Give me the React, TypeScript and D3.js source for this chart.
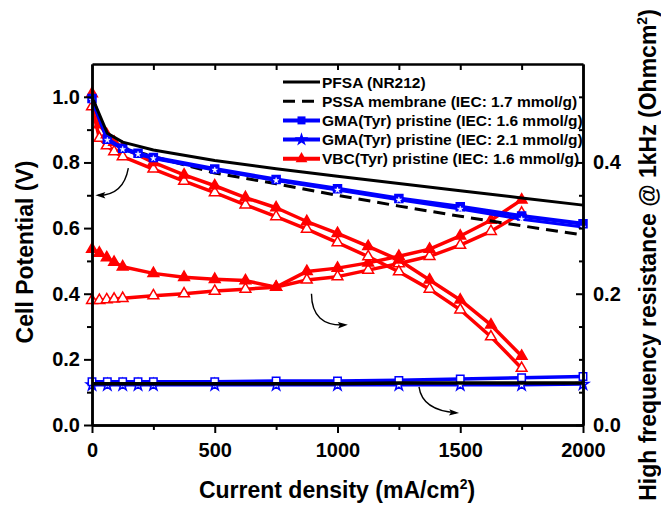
import React, { useEffect, useRef } from 'react';
import * as d3 from 'd3';

// current density (mA/cm2)
const xVbc = [0, 30, 60, 90, 125, 250, 375, 500, 625, 750, 875, 1000, 1125, 1250, 1375, 1500, 1625, 1750];
const xGma = [0, 62.5, 125, 187.5, 250, 500, 750, 1000, 1250, 1500, 1750, 2000];
const xNafion = [0, 62.5, 125, 250, 500, 750, 1000, 1250, 1500, 1750, 2000];

// cell potential (V)
const pfsaV = [1.0, 0.889, 0.862, 0.838, 0.806, 0.781, 0.758, 0.736, 0.714, 0.692, 0.670];
const pssaV = [1.0, 0.872, 0.845, 0.818, 0.768, 0.735, 0.700, 0.667, 0.636, 0.607, 0.579];
const gma16V = [0.995, 0.871, 0.843, 0.828, 0.815, 0.780, 0.748, 0.720, 0.690, 0.665, 0.637, 0.613];
const gma21V = [0.99, 0.868, 0.840, 0.825, 0.812, 0.777, 0.745, 0.716, 0.686, 0.658, 0.627, 0.603];
const vbcV = [1.01, 0.915, 0.885, 0.862, 0.845, 0.800, 0.762, 0.729, 0.693, 0.662, 0.620, 0.584, 0.544, 0.503, 0.442, 0.381, 0.305, 0.210];
const vbcV2 = [0.97, 0.874, 0.851, 0.833, 0.818, 0.780, 0.743, 0.708, 0.671, 0.635, 0.597, 0.556, 0.513, 0.467, 0.414, 0.351, 0.269, 0.173];

// high frequency resistance (Ohm cm2)
const pfsaHfr = [0.063, 0.063, 0.063, 0.063, 0.063, 0.063, 0.063, 0.064, 0.064, 0.064, 0.064];
const gma16Hfr = [0.066, 0.066, 0.066, 0.066, 0.066, 0.066, 0.067, 0.067, 0.068, 0.070, 0.072, 0.074];
const gma21Hfr = [0.061, 0.061, 0.061, 0.061, 0.061, 0.061, 0.061, 0.061, 0.061, 0.061, 0.061, 0.062];
const vbcHfr = [0.268, 0.262, 0.255, 0.248, 0.241, 0.231, 0.225, 0.222, 0.220, 0.210, 0.234, 0.239, 0.247, 0.257, 0.268, 0.288, 0.312, 0.343];
const vbcHfr2 = [0.190, 0.190, 0.191, 0.192, 0.193, 0.197, 0.200, 0.204, 0.207, 0.210, 0.221, 0.226, 0.236, 0.246, 0.257, 0.274, 0.295, 0.323];

const legendNames = [
  'PFSA (NR212)',
  'PSSA membrane (IEC: 1.7 mmol/g)',
  'GMA(Tyr) pristine (IEC: 1.6 mmol/g)',
  'GMA(Tyr) pristine (IEC: 2.1 mmol/g)',
  'VBC(Tyr) pristine (IEC: 1.6 mmol/g)',
];

// arrows: [start, control, end] in (mA/cm2, V)
const arrows = [
  [[148, 0.783], [128, 0.70], [26, 0.70]],
  [[894, 0.40], [895, 0.30], [1030, 0.305]],
  [[1332, 0.116], [1345, 0.045], [1483, 0.037]],
];

const W = 661;
const H = 512;
const margin = { top: 64, right: 78, bottom: 87, left: 92 };
const FONT = '"Liberation Sans", Arial, sans-serif';
const RED = '#ff0000';
const BLUE = '#0000ff';

const renderChart = (node) => {
  const svg = d3.select(node);
  svg.selectAll('*').remove();

  const innerW = W - margin.left - margin.right;
  const innerH = H - margin.top - margin.bottom;
  const x = d3.scaleLinear().domain([0, 2000]).range([margin.left, margin.left + innerW]);
  const yL = d3.scaleLinear().domain([0, 1.1]).range([margin.top + innerH, margin.top]);
  const yR = d3.scaleLinear().domain([0, 0.55]).range([margin.top + innerH, margin.top]);

  const sym = (type, size) => d3.symbol().type(type).size(size)();

  const series = (xs, ys, y, opt) => {
    const pts = xs.map((d, i) => [x(d), y(ys[i])]);
    svg.append('path')
      .attr('d', d3.line()(pts))
      .attr('fill', 'none')
      .attr('stroke', opt.color)
      .attr('stroke-width', opt.width)
      .attr('stroke-dasharray', opt.dash || null)
      .attr('stroke-linejoin', 'round');
    if (!opt.marker) return;
    svg.append('g').selectAll('path').data(pts).enter().append('path')
      .attr('transform', d => `translate(${d[0]},${d[1]})`)
      .attr('d', sym(opt.marker, opt.size))
      .attr('fill', opt.fill)
      .attr('stroke', opt.stroke || opt.color)
      .attr('stroke-width', opt.sw || 1.5);
  };

  // HFR (right axis)
  series(xGma, gma21Hfr, yR, { color: BLUE, width: 3, marker: d3.symbolStar, size: 40, fill: 'white' });
  series(xGma, gma16Hfr, yR, { color: BLUE, width: 3.5, marker: d3.symbolSquare, size: 55, fill: 'white' });
  series(xNafion, pfsaHfr, yR, { color: 'black', width: 3.5 });
  series(xVbc, vbcHfr2, yR, { color: RED, width: 3.5, marker: d3.symbolTriangle, size: 50, fill: 'white' });
  series(xVbc, vbcHfr, yR, { color: RED, width: 3.5, marker: d3.symbolTriangle, size: 50, fill: RED });

  // polarization (left axis)
  series(xVbc, vbcV2, yL, { color: RED, width: 3.5, marker: d3.symbolTriangle, size: 50, fill: 'white' });
  series(xVbc, vbcV, yL, { color: RED, width: 3.5, marker: d3.symbolTriangle, size: 50, fill: RED });
  series(xNafion, pssaV, yL, { color: 'black', width: 3, dash: '12,7' });
  series(xGma, gma16V, yL, { color: BLUE, width: 4, marker: d3.symbolSquare, size: 64, fill: BLUE });
  series(xGma, gma21V, yL, { color: BLUE, width: 3, marker: d3.symbolStar, size: 10, fill: 'white', stroke: 'white', sw: 0.5 });
  series(xNafion, pfsaV, yL, { color: 'black', width: 3 });

  // arrows
  arrows.forEach(a => {
    const [p0, c, p1] = a.map(p => [x(p[0]), yL(p[1])]);
    svg.append('path')
      .attr('d', `M${p0[0]},${p0[1]} Q${c[0]},${c[1]} ${p1[0]},${p1[1]}`)
      .attr('fill', 'none')
      .attr('stroke', 'black')
      .attr('stroke-width', 1.4);
    const ang = Math.atan2(p1[1] - c[1], p1[0] - c[0]) * 180 / Math.PI;
    svg.append('path')
      .attr('transform', `translate(${p1[0]},${p1[1]}) rotate(${ang})`)
      .attr('d', 'M3,0 L-7,-3.2 L-5,0 L-7,3.2 Z')
      .attr('fill', 'black');
  });

  // axes
  const bottom = margin.top + innerH;
  const right = margin.left + innerW;
  const styleAxis = (g, labels) => {
    g.select('.domain').attr('stroke-width', 2.5);
    g.selectAll('.tick line').attr('stroke-width', 2);
    g.selectAll('text')
      .attr('font-family', FONT)
      .attr('font-size', labels ? 20 : 0)
      .attr('font-weight', 'bold')
      .attr('fill', 'black');
  };

  const minorX = d3.range(250, 2000, 500);
  const minorL = d3.range(0.1, 1.1, 0.2);
  const minorR = [0.05, 0.1, 0.15, 0.25, 0.3, 0.35, 0.45, 0.5];

  svg.append('g').attr('transform', `translate(0,${bottom})`)
    .call(d3.axisBottom(x).tickValues(minorX).tickSize(5).tickSizeOuter(0).tickFormat(() => ''))
    .call(g => styleAxis(g, false));
  svg.append('g').attr('transform', `translate(0,${bottom})`)
    .call(d3.axisBottom(x).tickValues([0, 500, 1000, 1500, 2000]).tickSize(8).tickPadding(10).tickSizeOuter(0).tickFormat(d3.format('d')))
    .call(g => styleAxis(g, true));

  svg.append('g').attr('transform', `translate(0,${margin.top})`)
    .call(d3.axisTop(x).tickValues(d3.range(250, 2000, 250)).tickSize(-6).tickSizeOuter(0).tickFormat(() => ''))
    .call(g => styleAxis(g, false));

  svg.append('g').attr('transform', `translate(${margin.left},0)`)
    .call(d3.axisLeft(yL).tickValues(minorL).tickSize(5).tickSizeOuter(0).tickFormat(() => ''))
    .call(g => styleAxis(g, false));
  svg.append('g').attr('transform', `translate(${margin.left},0)`)
    .call(d3.axisLeft(yL).tickValues([0, 0.2, 0.4, 0.6, 0.8, 1.0]).tickSize(8).tickPadding(4).tickSizeOuter(0).tickFormat(d3.format('.1f')))
    .call(g => styleAxis(g, true));

  svg.append('g').attr('transform', `translate(${right},0)`)
    .call(d3.axisRight(yR).tickValues(minorR).tickSize(-4).tickSizeOuter(0).tickFormat(() => ''))
    .call(g => styleAxis(g, false));
  svg.append('g').attr('transform', `translate(${right},0)`)
    .call(d3.axisRight(yR).tickValues([0, 0.2, 0.4]).tickSize(-7).tickPadding(10).tickSizeOuter(0).tickFormat(d3.format('.1f')))
    .call(g => styleAxis(g, true));

  // legend
  const lg = svg.append('g').attr('font-family', FONT).attr('font-size', 15.5).attr('font-weight', 'bold');
  const legendStyle = [
    { color: 'black', width: 3 },
    { color: 'black', width: 3, dash: '12,7' },
    { color: BLUE, width: 4, marker: d3.symbolSquare, size: 64, fill: BLUE },
    { color: BLUE, width: 4, marker: d3.symbolStar, size: 60, fill: BLUE },
    { color: RED, width: 4, marker: d3.symbolTriangle, size: 60, fill: RED },
  ];
  legendNames.forEach((name, i) => {
    const yy = 82 + i * 19.2;
    const st = legendStyle[i];
    lg.append('line')
      .attr('x1', 283).attr('x2', 320).attr('y1', yy).attr('y2', yy)
      .attr('stroke', st.color).attr('stroke-width', st.width)
      .attr('stroke-dasharray', st.dash || null);
    if (st.marker) {
      lg.append('path')
        .attr('transform', `translate(301.5,${yy})`)
        .attr('d', sym(st.marker, st.size))
        .attr('fill', st.fill);
    }
    lg.append('text').attr('x', 322).attr('y', yy).attr('dy', '0.36em').text(name);
  });

  // titles
  const title = (tx, ty, rot) => svg.append('text')
    .attr('transform', `translate(${tx},${ty}) rotate(${rot})`)
    .attr('text-anchor', 'middle')
    .attr('font-family', FONT)
    .attr('font-size', 23)
    .attr('font-weight', 'bold');

  title(33, 252, -90).text('Cell Potential (V)');

  const xt = title(337, 498, 0);
  xt.append('tspan').text('Current density (mA/cm');
  xt.append('tspan').attr('dy', -9).attr('font-size', 14).text('2');
  xt.append('tspan').attr('dy', 9).text(')');

  const rt = title(656, 255, -90);
  rt.append('tspan').text('High frequency resistance @ 1kHz (Ohmcm');
  rt.append('tspan').attr('dy', -9).attr('font-size', 14).text('2');
  rt.append('tspan').attr('dy', 9).text(')');
};

export default function App() {
  const ref = useRef(null);
  useEffect(() => {
    renderChart(ref.current);
  }, []);
  return (
    <svg
      ref={ref}
      width={W}
      height={H}
      style={{ position: 'absolute', left: 0, top: 0, background: 'white' }}
    />
  );
}
